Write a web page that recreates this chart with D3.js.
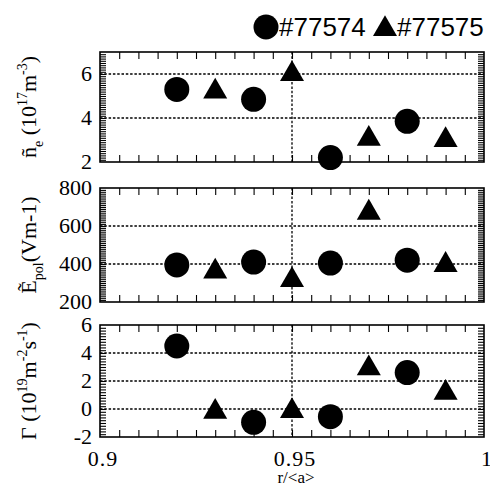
<!DOCTYPE html>
<html>
<head>
<meta charset="utf-8">
<title>Fluctuation profiles</title>
<script src="https://cdn.jsdelivr.net/npm/d3@7"></script>
<style>
	body { margin: 0; background: #fff; }
	.serif { font-family: "Liberation Serif", "Times New Roman", serif; }
</style>
</head>
<body>
<div id="chart"></div>
<script type="text/javascript">
	// radial positions
	var rCirc = [0.92, 0.94, 0.96, 0.98];   // #77574
	var rTri = [0.93, 0.95, 0.97, 0.99];    // #77575

	// density fluctuation (10^17 m^-3)
	var neCirc = [5.3, 4.85, 2.2, 3.85];
	var neTri = [5.2, 6.0, 3.05, 3.0];

	// poloidal field fluctuation (V/m)
	var epCirc = [395, 410, 405, 420];
	var epTri = [360, 315, 670, 395];

	// particle flux (10^19 m^-2 s^-1)
	var gamCirc = [4.5, -0.95, -0.55, 2.6];
	var gamTri = [-0.2, -0.15, 2.9, 1.15];

	var xTicks = [0.9, 0.95, 1];
	var xTickLabels = ["0.9", "0.95", "1"];
	var legendNames = ["#77574", "#77575"];

	var width = 490, height = 488;
	var left = 100, right = 484;

	var svg = d3.select("#chart").append("svg")
		.attr("width", width)
		.attr("height", height)
		.attr("class", "serif");

	var x = d3.scaleLinear().domain([0.9, 1.0]).range([left, right]);

	var panels = [
		{ top: 52, bottom: 162, domain: [2, 7], major: [2, 4, 6], minor: 0.1, grid: [4, 6], circ: neCirc, tri: neTri, label: "ne" },
		{ top: 188, bottom: 302, domain: [200, 800], major: [200, 400, 600, 800], minor: 10, grid: [400, 600], circ: epCirc, tri: epTri, label: "ep" },
		{ top: 325, bottom: 437, domain: [-2, 6], major: [-2, 0, 2, 4, 6], minor: 0.2, grid: [0, 2, 4], circ: gamCirc, tri: gamTri, label: "gam" }
	];

	var triangle = d3.symbol().type(d3.symbolTriangle).size(250);

	panels.forEach(function(p) {
		var y = d3.scaleLinear().domain(p.domain).range([p.bottom, p.top]);
		var g = svg.append("g");

		// dotted grid
		g.selectAll(".hgrid").data(p.grid).enter().append("line")
			.attr("x1", left).attr("x2", right)
			.attr("y1", function(d) { return y(d); }).attr("y2", function(d) { return y(d); })
			.attr("stroke", "#000").attr("stroke-width", 1.3).attr("stroke-dasharray", "2.5,1.8");
		g.append("line")
			.attr("x1", x(0.95)).attr("x2", x(0.95))
			.attr("y1", p.top).attr("y2", p.bottom)
			.attr("stroke", "#000").attr("stroke-width", 1.3).attr("stroke-dasharray", "2.5,1.8");

		// x ticks top and bottom
		var xt = d3.range(0.905, 1.0, 0.005);
		g.append("g").attr("transform", "translate(0," + p.bottom + ")")
			.call(d3.axisTop(x).tickValues(xt).tickSize(7).tickFormat(""));
		g.append("g").attr("transform", "translate(0," + p.top + ")")
			.call(d3.axisBottom(x).tickValues(xt).tickSize(7).tickFormat(""));

		// dense y ticks left and right
		var n = Math.round((p.domain[1] - p.domain[0]) / p.minor);
		var yt = d3.range(1, n).map(function(i) { return p.domain[0] + i * p.minor; });
		g.append("g").attr("transform", "translate(" + left + ",0)")
			.call(d3.axisRight(y).tickValues(yt).tickSize(6).tickFormat(""));
		g.append("g").attr("transform", "translate(" + right + ",0)")
			.call(d3.axisLeft(y).tickValues(yt).tickSize(6).tickFormat(""));
		g.selectAll(".domain").remove();
		g.selectAll(".tick line").attr("stroke", "#000").attr("stroke-width", 1.1);

		// frame
		g.append("rect")
			.attr("x", left).attr("y", p.top)
			.attr("width", right - left).attr("height", p.bottom - p.top)
			.attr("fill", "none").attr("stroke", "#000").attr("stroke-width", 1.6);

		// y tick labels
		g.selectAll(".ylab").data(p.major).enter().append("text")
			.attr("class", "serif")
			.attr("x", left - 8)
			.attr("y", function(d) { return y(d) + 7; })
			.attr("text-anchor", "end")
			.attr("font-size", 22)
			.text(function(d) { return d < 0 ? "-" + Math.abs(d) : d; });

		// markers
		g.selectAll(".circ").data(p.circ).enter().append("circle")
			.attr("cx", function(d, i) { return x(rCirc[i]); })
			.attr("cy", function(d) { return y(d); })
			.attr("r", 12.5)
			.attr("fill", "#000");
		g.selectAll(".tri").data(p.tri).enter().append("path")
			.attr("d", triangle)
			.attr("transform", function(d, i) { return "translate(" + x(rTri[i]) + "," + y(d) + ")"; })
			.attr("fill", "#000");

		// y axis title
		var t = svg.append("text")
			.attr("class", "serif")
			.attr("transform", "translate(36," + ((p.top + p.bottom) / 2) + ") rotate(-90)")
			.attr("text-anchor", "middle")
			.attr("font-size", 22);
		if (p.label === "ne") {
			t.append("tspan").text("ñ");
			t.append("tspan").attr("font-size", 14).attr("dy", 7).text("e");
			t.append("tspan").attr("dy", -7).text(" (10");
			t.append("tspan").attr("font-size", 14).attr("dy", -9).text("17");
			t.append("tspan").attr("dy", 9).text("m");
			t.append("tspan").attr("font-size", 14).attr("dy", -9).text("-3");
			t.append("tspan").attr("dy", 9).text(")");
		} else if (p.label === "ep") {
			t.append("tspan").text("Ẽ");
			t.append("tspan").attr("font-size", 14).attr("dy", 7).text("pol");
			t.append("tspan").attr("dy", -7).text("(Vm-1)");
		} else {
			t.append("tspan").text("Γ (10");
			t.append("tspan").attr("font-size", 14).attr("dy", -9).text("19");
			t.append("tspan").attr("dy", 9).text("m");
			t.append("tspan").attr("font-size", 14).attr("dy", -9).text("-2");
			t.append("tspan").attr("dy", 9).text("s");
			t.append("tspan").attr("font-size", 14).attr("dy", -9).text("-1");
			t.append("tspan").attr("dy", 9).text(")");
		}
	});

	// x tick labels and title
	svg.selectAll(".xlab").data(xTicks).enter().append("text")
		.attr("class", "serif")
		.attr("x", function(d) { return x(d) + 3; })
		.attr("y", 466)
		.attr("text-anchor", "middle")
		.attr("font-size", 22)
		.attr("letter-spacing", 1)
		.text(function(d, i) { return xTickLabels[i]; });
	svg.append("text")
		.attr("class", "serif")
		.attr("x", x(0.95) + 4)
		.attr("y", 483)
		.attr("text-anchor", "middle")
		.attr("font-size", 17)
		.text("r/<a>");

	// legend
	var leg = svg.append("g").style("font-family", "'Liberation Sans', sans-serif");
	leg.append("circle").attr("cx", 266).attr("cy", 27).attr("r", 12.5).attr("fill", "#000");
	leg.append("text").attr("x", 279).attr("y", 36).attr("font-size", 26).text(legendNames[0]);
	leg.append("path").attr("d", triangle).attr("transform", "translate(385,29)").attr("fill", "#000");
	leg.append("text").attr("x", 397).attr("y", 36).attr("font-size", 26).text(legendNames[1]);
</script>
</body>
</html>
